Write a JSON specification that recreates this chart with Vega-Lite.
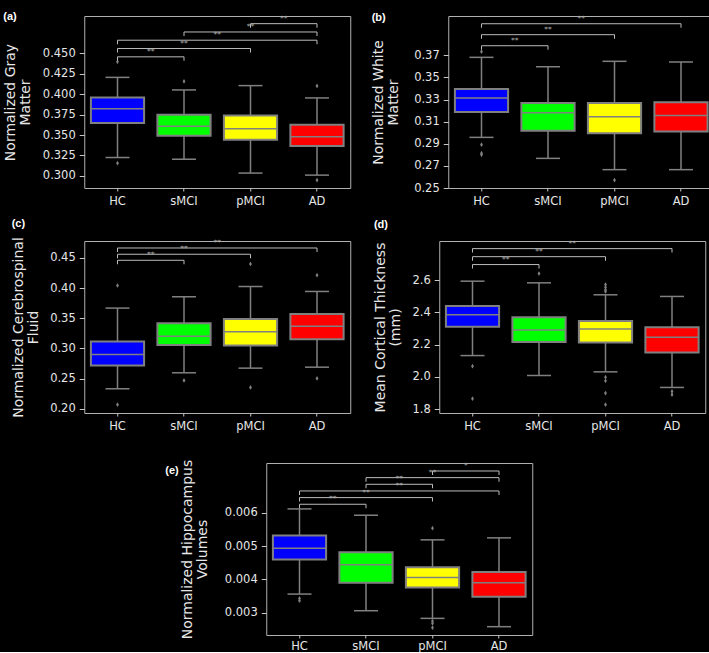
{
"$schema": "https://vega.github.io/schema/vega-lite/v6.json",
"background": "black",
"padding": {"left": 2, "top": 10, "right": 0, "bottom": 0},
"config": {
  "view": {"stroke": "#b0b0b0", "strokeWidth": 1},
  "axis": {"labelFont": "DejaVu Sans", "labelFontSize": 11.5, "labelColor": "#e6e6e6", "tickColor": "#c8c8c8", "tickSize": 5, "labelPadding": 4, "labelOverlap": false, "domain": false, "grid": false, "titleFont": "DejaVu Sans", "titleFontSize": 14, "titleFontWeight": "normal", "titleColor": "#e6e6e6", "titleLineHeight": 15},
  "axisX": {"tickSize": 3, "labelPadding": 4},
  "axisY": {"tickCount": 20},
  "title": {"font": "Liberation Sans", "fontSize": 11, "fontWeight": "bold", "color": "#ffffff", "anchor": "start", "frame": "bounds"},
  "tick": {"opacity": 1},
  "point": {"opacity": 1}
},
"datasets": {
  "boxA": [
    {"group": "HC", "lo": 0.3224, "q1": 0.3646, "med": 0.3821, "q3": 0.3959, "hi": 0.4207},
    {"group": "sMCI", "lo": 0.3203, "q1": 0.3492, "med": 0.3606, "q3": 0.3748, "hi": 0.4053},
    {"group": "pMCI", "lo": 0.3033, "q1": 0.3443, "med": 0.3577, "q3": 0.3740, "hi": 0.4106},
    {"group": "AD", "lo": 0.3008, "q1": 0.3366, "med": 0.3480, "q3": 0.3626, "hi": 0.3955}
  ],
  "outA": [
    {"group": "HC", "value": 0.4398}, {"group": "HC", "value": 0.3155},
    {"group": "sMCI", "value": 0.4159},
    {"group": "AD", "value": 0.4102}, {"group": "AD", "value": 0.2947}
  ],
  "brA": [
    {"from": "HC", "to": "sMCI", "level": 0.4459, "mid": 1.0, "label": "**"},
    {"from": "HC", "to": "pMCI", "level": 0.4561, "mid": 1.5, "label": "**"},
    {"from": "HC", "to": "AD", "level": 0.4663, "mid": 2.0, "label": "**"},
    {"from": "sMCI", "to": "AD", "level": 0.4764, "mid": 2.5, "label": "**"},
    {"from": "pMCI", "to": "AD", "level": 0.4866, "mid": 3.0, "label": "**"}
  ],
  "boxB": [
    {"group": "HC", "lo": 0.2958, "q1": 0.3187, "med": 0.3314, "q3": 0.3395, "hi": 0.3682},
    {"group": "sMCI", "lo": 0.2768, "q1": 0.3019, "med": 0.3181, "q3": 0.3269, "hi": 0.3597},
    {"group": "pMCI", "lo": 0.2666, "q1": 0.2995, "med": 0.3145, "q3": 0.3269, "hi": 0.3646},
    {"group": "AD", "lo": 0.2666, "q1": 0.3010, "med": 0.3157, "q3": 0.3275, "hi": 0.3640}
  ],
  "outB": [
    {"group": "HC", "value": 0.3733}, {"group": "HC", "value": 0.2892}, {"group": "HC", "value": 0.2815}, {"group": "HC", "value": 0.2800},
    {"group": "pMCI", "value": 0.2572}
  ],
  "brB": [
    {"from": "HC", "to": "sMCI", "level": 0.3787, "mid": 1.0, "label": "**"},
    {"from": "HC", "to": "pMCI", "level": 0.3887, "mid": 1.5, "label": "**"},
    {"from": "HC", "to": "AD", "level": 0.3986, "mid": 2.0, "label": "**"}
  ],
  "boxC": [
    {"group": "HC", "lo": 0.2330, "q1": 0.2716, "med": 0.2897, "q3": 0.3112, "hi": 0.3668},
    {"group": "sMCI", "lo": 0.2595, "q1": 0.3057, "med": 0.3200, "q3": 0.3415, "hi": 0.3856},
    {"group": "pMCI", "lo": 0.2672, "q1": 0.3046, "med": 0.3277, "q3": 0.3487, "hi": 0.4026},
    {"group": "AD", "lo": 0.2688, "q1": 0.3151, "med": 0.3366, "q3": 0.3569, "hi": 0.3944}
  ],
  "outC": [
    {"group": "HC", "value": 0.4043}, {"group": "HC", "value": 0.2066},
    {"group": "sMCI", "value": 0.2468},
    {"group": "pMCI", "value": 0.4401}, {"group": "pMCI", "value": 0.2352},
    {"group": "AD", "value": 0.4214}, {"group": "AD", "value": 0.2501}
  ],
  "brC": [
    {"from": "HC", "to": "sMCI", "level": 0.4461, "mid": 1.0, "label": "**"},
    {"from": "HC", "to": "pMCI", "level": 0.4561, "mid": 1.5, "label": "**"},
    {"from": "HC", "to": "AD", "level": 0.4665, "mid": 2.0, "label": "**"}
  ],
  "boxD": [
    {"group": "HC", "lo": 2.1319, "q1": 2.3113, "med": 2.3856, "q3": 2.4392, "hi": 2.5938},
    {"group": "sMCI", "lo": 2.0082, "q1": 2.2165, "med": 2.2907, "q3": 2.3691, "hi": 2.5835},
    {"group": "pMCI", "lo": 2.0309, "q1": 2.2124, "med": 2.2969, "q3": 2.3464, "hi": 2.5093},
    {"group": "AD", "lo": 1.9340, "q1": 2.1505, "med": 2.2454, "q3": 2.3072, "hi": 2.4990}
  ],
  "outD": [
    {"group": "HC", "value": 2.066}, {"group": "HC", "value": 1.864},
    {"group": "sMCI", "value": 2.641},
    {"group": "pMCI", "value": 2.573}, {"group": "pMCI", "value": 2.556}, {"group": "pMCI", "value": 2.540}, {"group": "pMCI", "value": 2.530},
    {"group": "pMCI", "value": 1.998}, {"group": "pMCI", "value": 1.975}, {"group": "pMCI", "value": 1.899}, {"group": "pMCI", "value": 1.827},
    {"group": "AD", "value": 1.909}, {"group": "AD", "value": 1.889}
  ],
  "brD": [
    {"from": "HC", "to": "sMCI", "level": 2.697, "mid": 1.0, "label": "**"},
    {"from": "HC", "to": "pMCI", "level": 2.746, "mid": 1.5, "label": "**"},
    {"from": "HC", "to": "AD", "level": 2.796, "mid": 2.0, "label": "**"}
  ],
  "boxE": [
    {"group": "HC", "lo": 0.00356, "q1": 0.00460, "med": 0.00494, "q3": 0.00532, "hi": 0.00612},
    {"group": "sMCI", "lo": 0.00306, "q1": 0.00390, "med": 0.00444, "q3": 0.00482, "hi": 0.00593},
    {"group": "pMCI", "lo": 0.00283, "q1": 0.00376, "med": 0.00406, "q3": 0.00437, "hi": 0.00519},
    {"group": "AD", "lo": 0.00258, "q1": 0.00348, "med": 0.00390, "q3": 0.00422, "hi": 0.00525}
  ],
  "outE": [
    {"group": "HC", "value": 0.00343}, {"group": "HC", "value": 0.00336},
    {"group": "pMCI", "value": 0.00554}, {"group": "pMCI", "value": 0.00275}, {"group": "pMCI", "value": 0.00268}, {"group": "pMCI", "value": 0.00255}
  ],
  "brE": [
    {"from": "HC", "to": "sMCI", "level": 0.00626, "mid": 1.0, "label": "**"},
    {"from": "HC", "to": "pMCI", "level": 0.00646, "mid": 1.5, "label": "**"},
    {"from": "HC", "to": "AD", "level": 0.00666, "mid": 2.0, "label": "**"},
    {"from": "sMCI", "to": "pMCI", "level": 0.00686, "mid": 2.0, "label": "**"},
    {"from": "sMCI", "to": "AD", "level": 0.00706, "mid": 2.5, "label": "**"},
    {"from": "pMCI", "to": "AD", "level": 0.00726, "mid": 3.0, "label": "*"}
  ]
},
"spacing": 26,
"center": true,
"vconcat": [
 {"spacing": 10, "vconcat": [
  {"spacing": 19, "hconcat": [
   {"width": 266, "height": 172, "title": {"text": "(a)", "offset": -7},
    "resolve": {"scale": {"x": "independent"}},
    "layer": [
     {"layer": [
      {"data": {"name": "boxA"}, "mark": {"type": "rule", "color": "#808080", "strokeWidth": 1.5},
       "encoding": {"x": {"field": "group", "type": "nominal", "scale": {"domain": ["HC", "sMCI", "pMCI", "AD"], "paddingInner": 0, "paddingOuter": 0}, "axis": {"title": null, "labelAngle": 0}},
        "y": {"field": "lo", "type": "quantitative", "scale": {"domain": [0.285, 0.496], "nice": false, "zero": false}, "axis": {"title": ["Normalized Gray", "Matter"], "values": [0.3, 0.325, 0.35, 0.375, 0.4, 0.425, 0.45], "tickCount": 20, "format": ".3f", "titlePadding": 10, "labelOverlap": false}},
        "y2": {"field": "q1"}}},
      {"data": {"name": "boxA"}, "mark": {"type": "rule", "color": "#808080", "strokeWidth": 1.5},
       "encoding": {"x": {"field": "group", "type": "nominal"}, "y": {"field": "q3", "type": "quantitative"}, "y2": {"field": "hi"}}},
      {"data": {"name": "boxA"}, "mark": {"type": "tick", "color": "#808080", "size": 24, "thickness": 1.5},
       "encoding": {"x": {"field": "group", "type": "nominal"}, "y": {"field": "lo", "type": "quantitative"}}},
      {"data": {"name": "boxA"}, "mark": {"type": "tick", "color": "#808080", "size": 24, "thickness": 1.5},
       "encoding": {"x": {"field": "group", "type": "nominal"}, "y": {"field": "hi", "type": "quantitative"}}},
      {"data": {"name": "boxA"}, "mark": {"type": "bar", "width": {"band": 0.8}, "stroke": "#808080", "strokeWidth": 2},
       "encoding": {"x": {"field": "group", "type": "nominal"}, "y": {"field": "q1", "type": "quantitative"}, "y2": {"field": "q3"},
        "color": {"field": "group", "type": "nominal", "scale": {"domain": ["HC", "sMCI", "pMCI", "AD"], "range": ["#0000ff", "#00ff00", "#ffff00", "#ff0000"]}, "legend": null}}},
      {"data": {"name": "boxA"}, "mark": {"type": "tick", "color": "#808080", "size": 53, "thickness": 1.5},
       "encoding": {"x": {"field": "group", "type": "nominal"}, "y": {"field": "med", "type": "quantitative"}}},
      {"data": {"name": "outA"}, "mark": {"type": "point", "shape": "M0,-1L0.6,0L0,1L-0.6,0Z", "filled": true, "color": "#808080", "size": 22},
       "encoding": {"x": {"field": "group", "type": "nominal"}, "y": {"field": "value", "type": "quantitative"}}},
      {"data": {"name": "brA"}, "mark": {"type": "rule", "color": "#bbbbbb", "strokeWidth": 1},
       "encoding": {"x": {"field": "from", "type": "nominal"}, "x2": {"field": "to"}, "y": {"field": "level", "type": "quantitative"}}},
      {"data": {"name": "brA"}, "mark": {"type": "tick", "orient": "vertical", "color": "#bbbbbb", "size": 4, "thickness": 1, "yOffset": 2},
       "encoding": {"x": {"field": "from", "type": "nominal"}, "y": {"field": "level", "type": "quantitative"}}},
      {"data": {"name": "brA"}, "mark": {"type": "tick", "orient": "vertical", "color": "#bbbbbb", "size": 4, "thickness": 1, "yOffset": 2},
       "encoding": {"x": {"field": "to", "type": "nominal"}, "y": {"field": "level", "type": "quantitative"}}}
     ]},
     {"data": {"name": "brA"}, "mark": {"type": "text", "baseline": "bottom", "dy": -1, "fontSize": 7.5, "color": "#aaaaaa", "font": "DejaVu Sans"},
      "encoding": {"x": {"field": "mid", "type": "quantitative", "scale": {"domain": [0, 4], "nice": false, "zero": false}, "axis": null},
       "y": {"field": "level", "type": "quantitative", "scale": {"domain": [0.285, 0.496], "nice": false, "zero": false}}, "text": {"field": "label"}}}
    ]},
   {"width": 266, "height": 172, "title": {"text": "(b)", "offset": -8},
    "resolve": {"scale": {"x": "independent"}},
    "layer": [
     {"layer": [
      {"data": {"name": "boxB"}, "mark": {"type": "rule", "color": "#808080", "strokeWidth": 1.5},
       "encoding": {"x": {"field": "group", "type": "nominal", "scale": {"domain": ["HC", "sMCI", "pMCI", "AD"], "paddingInner": 0, "paddingOuter": 0}, "axis": {"title": null, "labelAngle": 0}},
        "y": {"field": "lo", "type": "quantitative", "scale": {"domain": [0.25, 0.4056], "nice": false, "zero": false}, "axis": {"title": ["Normalized White", "Matter"], "values": [0.25, 0.27, 0.29, 0.31, 0.33, 0.35, 0.37], "tickCount": 20, "format": ".2f", "titlePadding": 13, "labelOverlap": false}},
        "y2": {"field": "q1"}}},
      {"data": {"name": "boxB"}, "mark": {"type": "rule", "color": "#808080", "strokeWidth": 1.5},
       "encoding": {"x": {"field": "group", "type": "nominal"}, "y": {"field": "q3", "type": "quantitative"}, "y2": {"field": "hi"}}},
      {"data": {"name": "boxB"}, "mark": {"type": "tick", "color": "#808080", "size": 24, "thickness": 1.5},
       "encoding": {"x": {"field": "group", "type": "nominal"}, "y": {"field": "lo", "type": "quantitative"}}},
      {"data": {"name": "boxB"}, "mark": {"type": "tick", "color": "#808080", "size": 24, "thickness": 1.5},
       "encoding": {"x": {"field": "group", "type": "nominal"}, "y": {"field": "hi", "type": "quantitative"}}},
      {"data": {"name": "boxB"}, "mark": {"type": "bar", "width": {"band": 0.8}, "stroke": "#808080", "strokeWidth": 2},
       "encoding": {"x": {"field": "group", "type": "nominal"}, "y": {"field": "q1", "type": "quantitative"}, "y2": {"field": "q3"},
        "color": {"field": "group", "type": "nominal", "scale": {"domain": ["HC", "sMCI", "pMCI", "AD"], "range": ["#0000ff", "#00ff00", "#ffff00", "#ff0000"]}, "legend": null}}},
      {"data": {"name": "boxB"}, "mark": {"type": "tick", "color": "#808080", "size": 53, "thickness": 1.5},
       "encoding": {"x": {"field": "group", "type": "nominal"}, "y": {"field": "med", "type": "quantitative"}}},
      {"data": {"name": "outB"}, "mark": {"type": "point", "shape": "M0,-1L0.6,0L0,1L-0.6,0Z", "filled": true, "color": "#808080", "size": 22},
       "encoding": {"x": {"field": "group", "type": "nominal"}, "y": {"field": "value", "type": "quantitative"}}},
      {"data": {"name": "brB"}, "mark": {"type": "rule", "color": "#bbbbbb", "strokeWidth": 1},
       "encoding": {"x": {"field": "from", "type": "nominal"}, "x2": {"field": "to"}, "y": {"field": "level", "type": "quantitative"}}},
      {"data": {"name": "brB"}, "mark": {"type": "tick", "orient": "vertical", "color": "#bbbbbb", "size": 4, "thickness": 1, "yOffset": 2},
       "encoding": {"x": {"field": "from", "type": "nominal"}, "y": {"field": "level", "type": "quantitative"}}},
      {"data": {"name": "brB"}, "mark": {"type": "tick", "orient": "vertical", "color": "#bbbbbb", "size": 4, "thickness": 1, "yOffset": 2},
       "encoding": {"x": {"field": "to", "type": "nominal"}, "y": {"field": "level", "type": "quantitative"}}}
     ]},
     {"data": {"name": "brB"}, "mark": {"type": "text", "baseline": "bottom", "dy": -1, "fontSize": 7.5, "color": "#aaaaaa", "font": "DejaVu Sans"},
      "encoding": {"x": {"field": "mid", "type": "quantitative", "scale": {"domain": [0, 4], "nice": false, "zero": false}, "axis": null},
       "y": {"field": "level", "type": "quantitative", "scale": {"domain": [0.25, 0.4056], "nice": false, "zero": false}}, "text": {"field": "label"}}}
    ]}
  ]},
  {"spacing": 22, "hconcat": [
   {"width": 266, "height": 172, "title": {"text": "(c)", "offset": 8},
    "resolve": {"scale": {"x": "independent"}},
    "layer": [
     {"layer": [
      {"data": {"name": "boxC"}, "mark": {"type": "rule", "color": "#808080", "strokeWidth": 1.5},
       "encoding": {"x": {"field": "group", "type": "nominal", "scale": {"domain": ["HC", "sMCI", "pMCI", "AD"], "paddingInner": 0, "paddingOuter": 0}, "axis": {"title": null, "labelAngle": 0}},
        "y": {"field": "lo", "type": "quantitative", "scale": {"domain": [0.1928, 0.4781], "nice": false, "zero": false}, "axis": {"title": ["Normalized Cerebrospinal", "Fluid"], "values": [0.2, 0.25, 0.3, 0.35, 0.4, 0.45], "tickCount": 20, "format": ".2f", "titlePadding": 9, "labelOverlap": false}},
        "y2": {"field": "q1"}}},
      {"data": {"name": "boxC"}, "mark": {"type": "rule", "color": "#808080", "strokeWidth": 1.5},
       "encoding": {"x": {"field": "group", "type": "nominal"}, "y": {"field": "q3", "type": "quantitative"}, "y2": {"field": "hi"}}},
      {"data": {"name": "boxC"}, "mark": {"type": "tick", "color": "#808080", "size": 24, "thickness": 1.5},
       "encoding": {"x": {"field": "group", "type": "nominal"}, "y": {"field": "lo", "type": "quantitative"}}},
      {"data": {"name": "boxC"}, "mark": {"type": "tick", "color": "#808080", "size": 24, "thickness": 1.5},
       "encoding": {"x": {"field": "group", "type": "nominal"}, "y": {"field": "hi", "type": "quantitative"}}},
      {"data": {"name": "boxC"}, "mark": {"type": "bar", "width": {"band": 0.8}, "stroke": "#808080", "strokeWidth": 2},
       "encoding": {"x": {"field": "group", "type": "nominal"}, "y": {"field": "q1", "type": "quantitative"}, "y2": {"field": "q3"},
        "color": {"field": "group", "type": "nominal", "scale": {"domain": ["HC", "sMCI", "pMCI", "AD"], "range": ["#0000ff", "#00ff00", "#ffff00", "#ff0000"]}, "legend": null}}},
      {"data": {"name": "boxC"}, "mark": {"type": "tick", "color": "#808080", "size": 53, "thickness": 1.5},
       "encoding": {"x": {"field": "group", "type": "nominal"}, "y": {"field": "med", "type": "quantitative"}}},
      {"data": {"name": "outC"}, "mark": {"type": "point", "shape": "M0,-1L0.6,0L0,1L-0.6,0Z", "filled": true, "color": "#808080", "size": 22},
       "encoding": {"x": {"field": "group", "type": "nominal"}, "y": {"field": "value", "type": "quantitative"}}},
      {"data": {"name": "brC"}, "mark": {"type": "rule", "color": "#bbbbbb", "strokeWidth": 1},
       "encoding": {"x": {"field": "from", "type": "nominal"}, "x2": {"field": "to"}, "y": {"field": "level", "type": "quantitative"}}},
      {"data": {"name": "brC"}, "mark": {"type": "tick", "orient": "vertical", "color": "#bbbbbb", "size": 4, "thickness": 1, "yOffset": 2},
       "encoding": {"x": {"field": "from", "type": "nominal"}, "y": {"field": "level", "type": "quantitative"}}},
      {"data": {"name": "brC"}, "mark": {"type": "tick", "orient": "vertical", "color": "#bbbbbb", "size": 4, "thickness": 1, "yOffset": 2},
       "encoding": {"x": {"field": "to", "type": "nominal"}, "y": {"field": "level", "type": "quantitative"}}}
     ]},
     {"data": {"name": "brC"}, "mark": {"type": "text", "baseline": "bottom", "dy": -1, "fontSize": 7.5, "color": "#aaaaaa", "font": "DejaVu Sans"},
      "encoding": {"x": {"field": "mid", "type": "quantitative", "scale": {"domain": [0, 4], "nice": false, "zero": false}, "axis": null},
       "y": {"field": "level", "type": "quantitative", "scale": {"domain": [0.1928, 0.4781], "nice": false, "zero": false}}, "text": {"field": "label"}}}
    ]},
   {"width": 266, "height": 172, "title": {"text": "(d)", "offset": 10},
    "resolve": {"scale": {"x": "independent"}},
    "layer": [
     {"layer": [
      {"data": {"name": "boxD"}, "mark": {"type": "rule", "color": "#808080", "strokeWidth": 1.5},
       "encoding": {"x": {"field": "group", "type": "nominal", "scale": {"domain": ["HC", "sMCI", "pMCI", "AD"], "paddingInner": 0, "paddingOuter": 0}, "axis": {"title": null, "labelAngle": 0}},
        "y": {"field": "lo", "type": "quantitative", "scale": {"domain": [1.7753, 2.8433], "nice": false, "zero": false}, "axis": {"title": ["Mean Cortical Thickness", "(mm)"], "values": [1.8, 2.0, 2.2, 2.4, 2.6], "tickCount": 20, "format": ".1f", "titlePadding": 9, "labelOverlap": false}},
        "y2": {"field": "q1"}}},
      {"data": {"name": "boxD"}, "mark": {"type": "rule", "color": "#808080", "strokeWidth": 1.5},
       "encoding": {"x": {"field": "group", "type": "nominal"}, "y": {"field": "q3", "type": "quantitative"}, "y2": {"field": "hi"}}},
      {"data": {"name": "boxD"}, "mark": {"type": "tick", "color": "#808080", "size": 24, "thickness": 1.5},
       "encoding": {"x": {"field": "group", "type": "nominal"}, "y": {"field": "lo", "type": "quantitative"}}},
      {"data": {"name": "boxD"}, "mark": {"type": "tick", "color": "#808080", "size": 24, "thickness": 1.5},
       "encoding": {"x": {"field": "group", "type": "nominal"}, "y": {"field": "hi", "type": "quantitative"}}},
      {"data": {"name": "boxD"}, "mark": {"type": "bar", "width": {"band": 0.8}, "stroke": "#808080", "strokeWidth": 2},
       "encoding": {"x": {"field": "group", "type": "nominal"}, "y": {"field": "q1", "type": "quantitative"}, "y2": {"field": "q3"},
        "color": {"field": "group", "type": "nominal", "scale": {"domain": ["HC", "sMCI", "pMCI", "AD"], "range": ["#0000ff", "#00ff00", "#ffff00", "#ff0000"]}, "legend": null}}},
      {"data": {"name": "boxD"}, "mark": {"type": "tick", "color": "#808080", "size": 53, "thickness": 1.5},
       "encoding": {"x": {"field": "group", "type": "nominal"}, "y": {"field": "med", "type": "quantitative"}}},
      {"data": {"name": "outD"}, "mark": {"type": "point", "shape": "M0,-1L0.6,0L0,1L-0.6,0Z", "filled": true, "color": "#808080", "size": 22},
       "encoding": {"x": {"field": "group", "type": "nominal"}, "y": {"field": "value", "type": "quantitative"}}},
      {"data": {"name": "brD"}, "mark": {"type": "rule", "color": "#bbbbbb", "strokeWidth": 1},
       "encoding": {"x": {"field": "from", "type": "nominal"}, "x2": {"field": "to"}, "y": {"field": "level", "type": "quantitative"}}},
      {"data": {"name": "brD"}, "mark": {"type": "tick", "orient": "vertical", "color": "#bbbbbb", "size": 4, "thickness": 1, "yOffset": 2},
       "encoding": {"x": {"field": "from", "type": "nominal"}, "y": {"field": "level", "type": "quantitative"}}},
      {"data": {"name": "brD"}, "mark": {"type": "tick", "orient": "vertical", "color": "#bbbbbb", "size": 4, "thickness": 1, "yOffset": 2},
       "encoding": {"x": {"field": "to", "type": "nominal"}, "y": {"field": "level", "type": "quantitative"}}}
     ]},
     {"data": {"name": "brD"}, "mark": {"type": "text", "baseline": "bottom", "dy": -1, "fontSize": 7.5, "color": "#aaaaaa", "font": "DejaVu Sans"},
      "encoding": {"x": {"field": "mid", "type": "quantitative", "scale": {"domain": [0, 4], "nice": false, "zero": false}, "axis": null},
       "y": {"field": "level", "type": "quantitative", "scale": {"domain": [1.7753, 2.8433], "nice": false, "zero": false}}, "text": {"field": "label"}}}
    ]}
  ]}
 ]},
 {"width": 266, "height": 172, "title": {"text": "(e)", "offset": -17, "dx": -15},
  "resolve": {"scale": {"x": "independent"}},
  "layer": [
   {"layer": [
    {"data": {"name": "boxE"}, "mark": {"type": "rule", "color": "#808080", "strokeWidth": 1.5},
     "encoding": {"x": {"field": "group", "type": "nominal", "scale": {"domain": ["HC", "sMCI", "pMCI", "AD"], "paddingInner": 0, "paddingOuter": 0}, "axis": {"title": null, "labelAngle": 0, "labelPadding": 2}},
      "y": {"field": "lo", "type": "quantitative", "scale": {"domain": [0.00233, 0.0075], "nice": false, "zero": false}, "axis": {"title": ["Normalized Hippocampus", "Volumes"], "values": [0.003, 0.004, 0.005, 0.006], "tickCount": 20, "format": ".3f", "titlePadding": 15, "labelOverlap": false}},
      "y2": {"field": "q1"}}},
    {"data": {"name": "boxE"}, "mark": {"type": "rule", "color": "#808080", "strokeWidth": 1.5},
     "encoding": {"x": {"field": "group", "type": "nominal"}, "y": {"field": "q3", "type": "quantitative"}, "y2": {"field": "hi"}}},
    {"data": {"name": "boxE"}, "mark": {"type": "tick", "color": "#808080", "size": 24, "thickness": 1.5},
     "encoding": {"x": {"field": "group", "type": "nominal"}, "y": {"field": "lo", "type": "quantitative"}}},
    {"data": {"name": "boxE"}, "mark": {"type": "tick", "color": "#808080", "size": 24, "thickness": 1.5},
     "encoding": {"x": {"field": "group", "type": "nominal"}, "y": {"field": "hi", "type": "quantitative"}}},
    {"data": {"name": "boxE"}, "mark": {"type": "bar", "width": {"band": 0.8}, "stroke": "#808080", "strokeWidth": 2},
     "encoding": {"x": {"field": "group", "type": "nominal"}, "y": {"field": "q1", "type": "quantitative"}, "y2": {"field": "q3"},
      "color": {"field": "group", "type": "nominal", "scale": {"domain": ["HC", "sMCI", "pMCI", "AD"], "range": ["#0000ff", "#00ff00", "#ffff00", "#ff0000"]}, "legend": null}}},
    {"data": {"name": "boxE"}, "mark": {"type": "tick", "color": "#808080", "size": 53, "thickness": 1.5},
     "encoding": {"x": {"field": "group", "type": "nominal"}, "y": {"field": "med", "type": "quantitative"}}},
    {"data": {"name": "outE"}, "mark": {"type": "point", "shape": "M0,-1L0.6,0L0,1L-0.6,0Z", "filled": true, "color": "#808080", "size": 22},
     "encoding": {"x": {"field": "group", "type": "nominal"}, "y": {"field": "value", "type": "quantitative"}}},
    {"data": {"name": "brE"}, "mark": {"type": "rule", "color": "#bbbbbb", "strokeWidth": 1},
     "encoding": {"x": {"field": "from", "type": "nominal"}, "x2": {"field": "to"}, "y": {"field": "level", "type": "quantitative"}}},
    {"data": {"name": "brE"}, "mark": {"type": "tick", "orient": "vertical", "color": "#bbbbbb", "size": 4, "thickness": 1, "yOffset": 2},
     "encoding": {"x": {"field": "from", "type": "nominal"}, "y": {"field": "level", "type": "quantitative"}}},
    {"data": {"name": "brE"}, "mark": {"type": "tick", "orient": "vertical", "color": "#bbbbbb", "size": 4, "thickness": 1, "yOffset": 2},
     "encoding": {"x": {"field": "to", "type": "nominal"}, "y": {"field": "level", "type": "quantitative"}}}
   ]},
   {"data": {"name": "brE"}, "mark": {"type": "text", "baseline": "bottom", "dy": -1, "fontSize": 7.5, "color": "#aaaaaa", "font": "DejaVu Sans"},
    "encoding": {"x": {"field": "mid", "type": "quantitative", "scale": {"domain": [0, 4], "nice": false, "zero": false}, "axis": null},
     "y": {"field": "level", "type": "quantitative", "scale": {"domain": [0.00233, 0.0075], "nice": false, "zero": false}}, "text": {"field": "label"}}}
  ]}
]
}
